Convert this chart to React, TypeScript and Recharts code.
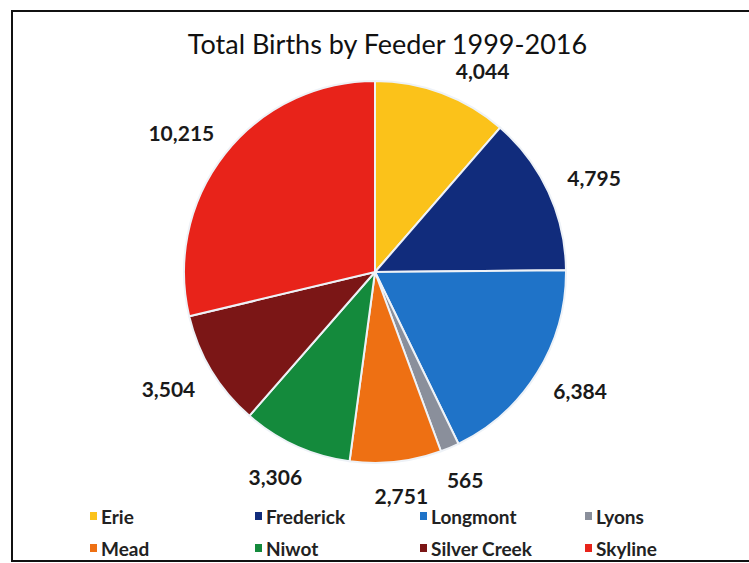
import React from 'react';
import { PieChart, Pie, Cell, Legend } from 'recharts';

const feeders = ['Erie', 'Frederick', 'Longmont', 'Lyons', 'Mead', 'Niwot', 'Silver Creek', 'Skyline'];
const births = [4044, 4795, 6384, 565, 2751, 3306, 3504, 10215];
const colors = ['#FBC21A', '#112C7C', '#1F73C8', '#8A8F9B', '#EE7013', '#148A3C', '#7B1616', '#E8231A'];

const data = feeders.map((name, i) => ({ name, value: births[i] }));

const FONT = 'Lato, "Open Sans", sans-serif';
const RAD = Math.PI / 180;
const TITLE_CLEAR_Y = 70;

const renderLabel = (props: any) => {
  const { cx, cy, midAngle, outerRadius, value } = props;
  const text = Number(value).toLocaleString('en-US');
  const fs = 21;
  const hw = (text.length * 0.52 * fs) / 2 + 3;
  const hh = 14;
  const r = outerRadius + 20;
  // theta: clockwise from 12 o'clock
  let theta = 90 - midAngle;
  const place = (t: number) => {
    const ux = Math.sin(t * RAD);
    const uy = -Math.cos(t * RAD);
    return { x: cx + r * ux + hw * ux, y: cy + r * uy + hh * uy };
  };
  let p = place(theta);
  // keep labels clear of the title by sliding them along the ring
  let guard = 0;
  while (p.y < TITLE_CLEAR_Y && guard < 200) {
    const norm = ((theta % 360) + 360) % 360;
    theta += norm < 180 ? 0.5 : -0.5;
    p = place(theta);
    guard++;
  }
  return (
    <text x={p.x} y={p.y} textAnchor="middle" dominantBaseline="central" fontFamily={FONT} fontWeight={700} fontSize={fs} fill="#1a1a1a">
      {text}
    </text>
  );
};

const renderLegend = () => (
  <div style={{ position: 'relative', width: 749, height: 56 }}>
    {feeders.map((name, i) => {
      const col = i % 4;
      const row = Math.floor(i / 4);
      return (
        <div
          key={name}
          style={{
            position: 'absolute',
            left: 90 + col * 165,
            top: row * 32,
            height: 22,
            display: 'flex',
            alignItems: 'center',
            fontFamily: FONT,
            fontWeight: 700,
            fontSize: 19,
            color: '#222',
            whiteSpace: 'nowrap',
          }}
        >
          <span style={{ display: 'inline-block', width: 7, height: 8, background: colors[i], marginRight: 4 }} />
          {name}
        </div>
      );
    })}
  </div>
);

export default function App() {
  return (
    <div style={{ position: 'absolute', left: 0, top: 0, width: 749, height: 563, background: '#fff', overflow: 'hidden' }}>
      <div
        style={{
          position: 'absolute',
          left: 11,
          top: 10,
          width: 760,
          height: 552,
          border: '2.5px solid #111',
          boxSizing: 'border-box',
        }}
      />
      <div
        style={{
          position: 'absolute',
          left: 0,
          top: 28,
          width: 775,
          textAlign: 'center',
          fontFamily: FONT,
          fontSize: 27,
          color: '#111',
          lineHeight: '32px',
        }}
      >
        Total Births by Feeder 1999-2016
      </div>
      <div style={{ position: 'absolute', left: 0, top: 0 }}>
        <PieChart width={749} height={563} margin={{ top: 0, right: 0, bottom: 0, left: 0 }}>
          <Pie
            data={data}
            dataKey="value"
            nameKey="name"
            cx={375}
            cy={272}
            outerRadius={191}
            startAngle={90}
            endAngle={-270}
            stroke="#eef2f7"
            strokeWidth={2}
            label={renderLabel}
            labelLine={false}
            isAnimationActive={false}
          >
            {data.map((d, i) => (
              <Cell key={d.name} fill={colors[i]} />
            ))}
          </Pie>
          <Legend content={renderLegend} wrapperStyle={{ position: 'absolute', left: 0, top: 505, width: 749, height: 56 }} />
        </PieChart>
      </div>
    </div>
  );
}
